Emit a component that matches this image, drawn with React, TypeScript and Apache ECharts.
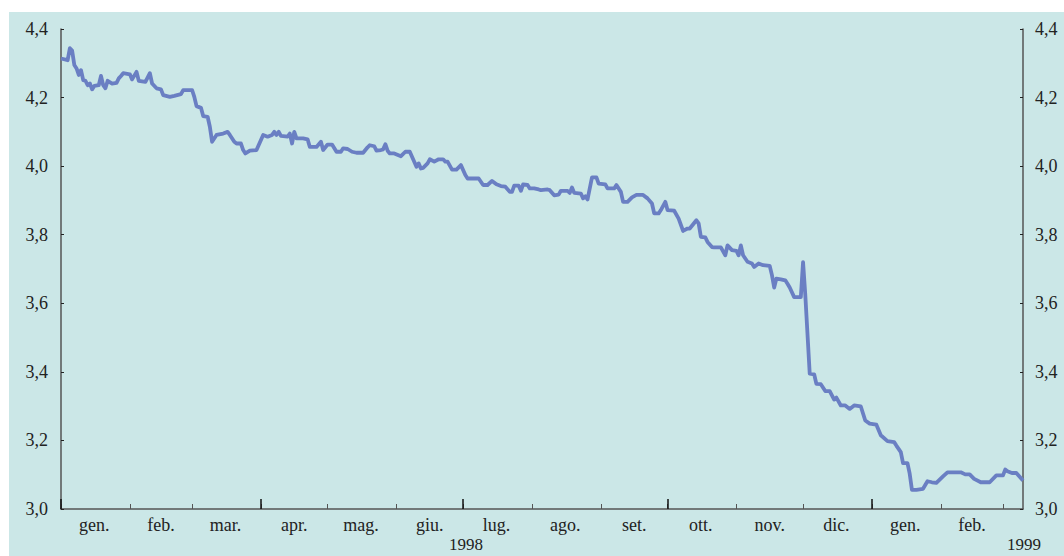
import React, { useEffect, useRef } from "react";
import * as echarts from "echarts";

// Days since 1 Jan 1998 and the rate (%)
const days = [
  0, 3, 4, 5, 6, 7, 8, 9, 10, 11, 12, 13, 14, 15, 17, 18, 19, 20, 21, 23, 25, 26, 27, 28, 31, 32, 34, 35, 38, 40,
  41, 43, 45, 46, 49, 51, 54, 55, 59, 60, 61, 63, 64, 66, 67, 68, 70, 73, 75, 76, 78, 79, 81, 82, 83, 85, 88, 90,
  91, 93, 95, 96, 97, 98, 99, 102, 103, 104, 105, 106, 109, 111, 112, 115, 117, 118, 120, 122, 124, 126, 127, 129,
  131, 133, 136, 138, 139, 141, 142, 144, 145, 146, 147, 148, 150, 153, 155, 157, 159, 160, 161, 162, 163, 165, 166,
  168, 170, 172, 173, 174, 176, 178, 180, 182, 183, 188, 190, 192, 194, 196, 198, 200, 202, 203, 204, 206, 207, 208,
  210, 211, 213, 215, 216, 219, 220, 222, 224, 225, 228, 229, 230, 231, 234, 235, 236, 237, 239, 241, 242, 245, 246,
  249, 250, 252, 253, 255, 257, 259, 262, 264, 266, 267, 269, 270, 272, 273, 276, 278, 280, 282, 283, 285, 286, 287,
  288, 290, 291, 293, 294, 297, 299, 300, 302, 304, 305, 306, 307, 309, 311, 312, 314, 316, 319, 320, 321, 322, 324,
  326, 327, 328, 330, 333, 334, 335, 337, 339, 340, 342, 344, 346, 348, 349, 351, 353, 355, 357, 360, 362, 364, 367,
  369, 372, 375, 376, 378, 379, 381, 382, 383, 385, 388, 390, 392, 394, 397, 399, 405, 407, 409, 411, 414, 418, 421,
  424, 425, 426, 428, 430, 433,
];
const rates = [
  4.314, 4.309, 4.344, 4.337, 4.295, 4.285, 4.266, 4.28, 4.251, 4.249, 4.236, 4.241, 4.224, 4.234, 4.236, 4.263,
  4.236, 4.227, 4.249, 4.241, 4.243, 4.256, 4.263, 4.271, 4.268, 4.253, 4.275, 4.249, 4.246, 4.271, 4.241, 4.227,
  4.224, 4.207, 4.202, 4.205, 4.21, 4.222, 4.222, 4.202, 4.175, 4.17, 4.146, 4.144, 4.115, 4.071, 4.091, 4.095, 4.1,
  4.091, 4.071, 4.066, 4.066, 4.047, 4.037, 4.045, 4.047, 4.076, 4.091, 4.086, 4.091, 4.1, 4.091, 4.1, 4.088, 4.086,
  4.095, 4.066, 4.1, 4.081, 4.081, 4.078, 4.056, 4.056, 4.071, 4.047, 4.063, 4.063, 4.042, 4.042, 4.052, 4.05, 4.042,
  4.039, 4.039, 4.055, 4.061, 4.058, 4.045, 4.047, 4.049, 4.064, 4.045, 4.037, 4.037, 4.029, 4.042, 4.042, 4.013,
  3.998, 4.008, 3.993, 3.995, 4.008, 4.02, 4.013, 4.02, 4.02, 4.013, 4.013, 3.99, 3.99, 4.003, 3.974, 3.964, 3.964,
  3.945, 3.945, 3.957, 3.947, 3.942, 3.94, 3.925, 3.925, 3.943, 3.943, 3.928, 3.947, 3.945, 3.935, 3.935, 3.932, 3.93,
  3.932, 3.93, 3.915, 3.917, 3.928, 3.928, 3.922, 3.938, 3.922, 3.92, 3.906, 3.912, 3.903, 3.967, 3.967, 3.949, 3.947,
  3.935, 3.935, 3.945, 3.925, 3.896, 3.896, 3.909, 3.916, 3.916, 3.906, 3.891, 3.862, 3.862, 3.872, 3.896, 3.872,
  3.87, 3.847, 3.811, 3.818, 3.818, 3.834, 3.842, 3.833, 3.794, 3.792, 3.779, 3.764, 3.763, 3.763, 3.74, 3.769,
  3.755, 3.753, 3.74, 3.769, 3.74, 3.721, 3.716, 3.706, 3.716, 3.711, 3.709, 3.682, 3.646, 3.672, 3.67, 3.667,
  3.657, 3.646, 3.618, 3.618, 3.72, 3.625, 3.395, 3.393, 3.365, 3.364, 3.344, 3.344, 3.319, 3.325, 3.302, 3.302,
  3.292, 3.302, 3.299, 3.258, 3.249, 3.246, 3.215, 3.198, 3.195, 3.185, 3.166, 3.134, 3.134, 3.103, 3.056, 3.056,
  3.059, 3.081, 3.078, 3.076, 3.095, 3.107, 3.107, 3.101, 3.101, 3.088, 3.078, 3.078, 3.098, 3.098, 3.115, 3.11,
  3.105, 3.105, 3.083,
];
const monthNames = ["gen.", "feb.", "mar.", "apr.", "mag.", "giu.", "lug.", "ago.", "set.", "ott.", "nov.", "dic."];
const yearLabels = ["1998", "1999"];
const yTicks = { min: 3.0, max: 4.4, step: 0.2 };

const START = Date.UTC(1998, 0, 1);
const NDAYS = 434;
const dayDates = Array.from({ length: NDAYS }, (_, i) => new Date(START + i * 86400000));
const categories = dayDates.map((d) => d.toISOString().slice(0, 10));

const FONT = "Liberation Serif, Times New Roman, serif";
const FS = 18;
const BG = "#cbe7e7";
const LINE = "#6a7fc3";

function isMidMonth(i: number) {
  const d = dayDates[i];
  if (!d) return false;
  const dim = new Date(Date.UTC(d.getUTCFullYear(), d.getUTCMonth() + 1, 0)).getUTCDate();
  return d.getUTCDate() === Math.floor(dim / 2) + 1;
}
function isMonthStart(i: number) {
  const d = dayDates[i];
  return !!d && d.getUTCDate() === 1;
}
function isQuarterStart(i: number) {
  const d = dayDates[i];
  return !!d && d.getUTCDate() === 1 && d.getUTCMonth() % 3 === 0;
}

export default function App() {
  const ref = useRef<HTMLDivElement>(null);
  useEffect(() => {
    if (!ref.current) return;
    const chart = echarts.init(ref.current, null, { renderer: "svg" });
    const yAxisBase = (pos: "left" | "right") => ({
      type: "value",
      position: pos,
      min: yTicks.min,
      max: yTicks.max,
      interval: yTicks.step,
      splitLine: { show: false },
      axisLine: { show: true, lineStyle: { color: "#555", width: 1.5 } },
      axisTick: { show: true, inside: true, length: 3, lineStyle: { color: "#222", width: 1 } },
      axisLabel: {
        margin: pos === "left" ? 13 : 12,
        fontFamily: FONT,
        fontSize: FS,
        color: "#222",
        formatter: (v: number) => v.toFixed(1).replace(".", ","),
      },
    });
    const yearText = (x: number, text: string) => ({
      type: "text",
      x,
      y: 544,
      style: {
        text,
        font: `17px ${FONT}`,
        fontFamily: FONT,
        fontSize: 17,
        fill: "#222",
        align: "center",
        verticalAlign: "middle",
      },
    });
    chart.setOption({
      animation: false,
      backgroundColor: BG,
      grid: { left: 61, right: 41, top: 29, bottom: 47, containLabel: false },
      xAxis: [
        {
          type: "category",
          data: categories,
          boundaryGap: false,
          position: "bottom",
          axisLine: { show: true, lineStyle: { color: "#555", width: 1.5 } },
          axisTick: {
            show: true,
            inside: true,
            length: 5,
            interval: (i: number) => isMonthStart(i),
            lineStyle: { color: "#555", width: 1 },
          },
          axisLabel: {
            show: true,
            margin: 7,
            interval: (i: number) => isMidMonth(i),
            formatter: (v: string) => monthNames[parseInt(v.slice(5, 7), 10) - 1],
            fontFamily: FONT,
            fontSize: FS,
            color: "#222",
          },
          splitLine: { show: false },
        },
        {
          type: "category",
          data: categories,
          boundaryGap: false,
          position: "bottom",
          axisLine: { show: false },
          axisLabel: { show: false },
          axisTick: {
            show: true,
            inside: true,
            length: 10,
            interval: (i: number) => isQuarterStart(i),
            lineStyle: { color: "#111", width: 1.5 },
          },
          splitLine: { show: false },
        },
      ],
      yAxis: [yAxisBase("left"), yAxisBase("right")],
      graphic: [
        { type: "rect", left: 0, top: 0, shape: { x: 0, y: 0, width: 1064, height: 12 }, style: { fill: "#fff" }, silent: true },
        { type: "rect", left: 0, top: 0, shape: { x: 0, y: 0, width: 9, height: 556 }, style: { fill: "#fff" }, silent: true },
        yearText(466, yearLabels[0]),
        yearText(1024, yearLabels[1]),
      ],
      series: [
        {
          type: "line",
          xAxisIndex: 0,
          yAxisIndex: 0,
          data: days.map((d, i) => [d, rates[i]]),
          showSymbol: false,
          symbol: "none",
          lineStyle: { color: LINE, width: 3.8, join: "round" },
          itemStyle: { color: LINE },
          z: 3,
        },
      ],
    });
    return () => chart.dispose();
  }, []);
  return (
    <div
      ref={ref}
      style={{ position: "fixed", left: 0, top: 0, width: 1064, height: 556 }}
    />
  );
}
